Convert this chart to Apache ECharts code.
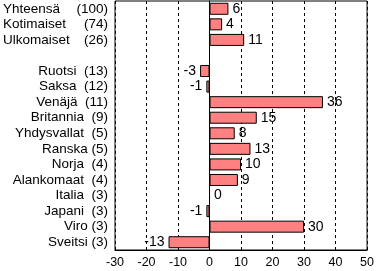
<!DOCTYPE html>
<html><head><meta charset="utf-8">
<script src="https://cdn.jsdelivr.net/npm/echarts@6/dist/echarts.min.js"></script>
<style>html,body{margin:0;padding:0;background:#fff}#c{width:377px;height:271px}</style>
</head><body><div id="c"></div>
<script>
const names = ['Yhteensä','Kotimaiset','Ulkomaiset','','Ruotsi','Saksa','Venäjä','Britannia','Yhdysvallat','Ranska','Norja','Alankomaat','Italia','Japani','Viro','Sveitsi'];
const counts = ['(100)','(74)','(26)','','(13)','(12)','(11)','(9)','(5)','(5)','(4)','(4)','(3)','(3)','(3)','(3)'];
const values = [6,4,11,null,-3,-1,36,15,8,13,10,9,0,-1,30,-13];
const xTicks = [-30,-20,-10,0,10,20,30,40,50];

const cats = names.map((n,i)=> i);
const font = 'Liberation Sans, Arial, sans-serif';
const chart = echarts.init(document.getElementById('c'));
chart.setOption({
  animation:false,
  grid:{left:115,right:9,top:1,bottom:21,show:true,borderColor:'#000',borderWidth:1},
  xAxis:{type:'value',min:xTicks[0],max:xTicks[xTicks.length-1],interval:10,
    axisLine:{show:true,lineStyle:{color:'#000'}},axisTick:{show:false},
    axisLabel:{color:'#000',fontSize:12.5,fontFamily:font,margin:6},
    splitLine:{show:true,lineStyle:{color:'#000',type:[3,3],width:1}}},
  yAxis:{type:'category',inverse:true,data:cats,
    axisLine:{show:true,onZero:true,lineStyle:{color:'#000'}},axisTick:{show:false},
    axisLabel:{interval:0,margin:7,color:'#000',fontSize:13.5,fontFamily:font,
      formatter:function(v){const i=+v; if(!names[i]) return '';
        if(i<3) return '{w|'+names[i]+'}{p|'+counts[i]+'}';
        const gap = (names[i]==='Viro'||names[i]==='Sveitsi'||names[i]==='Ranska') ? ' ' : '  ';
        return names[i]+gap+counts[i];},
      rich:{w:{width:72,align:'left',fontSize:13.5,fontFamily:font,color:'#000'},
            p:{width:33,align:'right',fontSize:13.5,fontFamily:font,color:'#000'}}}},
  series:[{type:'bar',barWidth:12,
    data:values.map(v=> v==null?null:(v<0?{value:v,label:{position:'left'}}:v)),
    itemStyle:{color:'#FF8080',borderColor:'#000',borderWidth:1},
    label:{show:true,color:'#000',fontSize:14,fontFamily:font,distance:4,
      position:'right',
      formatter:p=>p.value==null?'':String(p.value)}}]
});
</script></body></html>
